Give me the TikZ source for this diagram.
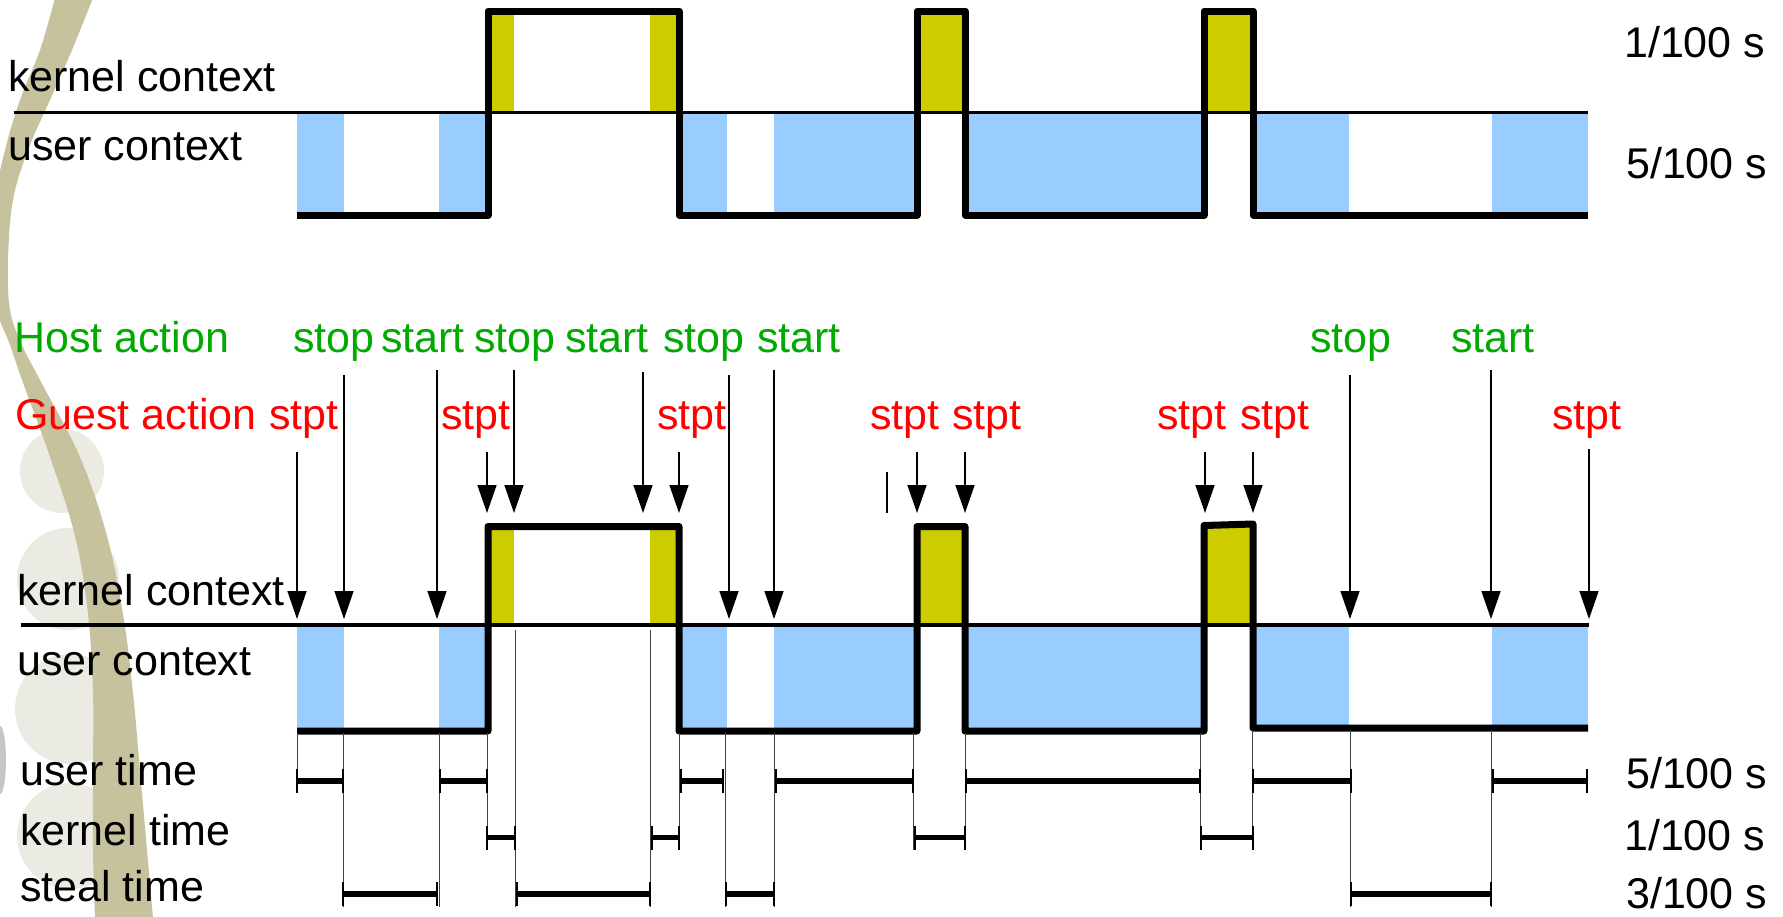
\documentclass[tikz,border=0pt]{standalone}
\usepackage{fontspec}
\setmainfont{Liberation Sans}
\usetikzlibrary{arrows.meta}
\definecolor{kyel}{RGB}{204,204,0}
\definecolor{ublue}{RGB}{153,204,255}
\definecolor{hgreen}{RGB}{0,170,0}
\definecolor{gred}{RGB}{255,0,0}
\definecolor{swoosh}{RGB}{198,194,158}
\definecolor{circ}{RGB}{235,235,227}
\begin{document}
\begin{tikzpicture}[x=1pt,y=-1pt,
  wave/.style={line width=7pt, line join=round},
  divider/.style={line width=3.5pt},
  arr/.style={line width=1.5pt, -{Triangle[width=19pt,length=28pt]}},
  guide/.style={line width=1pt, black!75},
  tbar/.style={line width=5.5pt},
  ttick/.style={line width=2.5pt},
  lbl/.style={font=\fontsize{43}{50}\selectfont, inner sep=0pt, anchor=base west},
  host/.style={lbl, text=hgreen},
  guest/.style={lbl, text=gred}]
\useasboundingbox (0,0) rectangle (1783,916);

% ---------- background decoration ----------
\begin{scope}
\clip (0,0) rectangle (1783,916);
\fill[circ] (62,471) circle[radius=42];
\fill[circ] (68,579) circle[radius=51];
\fill[circ] (70,709) circle[radius=55];
\fill[circ] (70,836) circle[radius=53];
\fill[gray!45] (0,760) ellipse[x radius=6, y radius=34];
\fill[swoosh] plot[smooth, tension=0.6] coordinates {(55,-2) (40,50) (20,100) (5,150) (-5,200) (-8,260) (-3,310) (10,345) (22,380) (50,457) (75,536) (88,614) (93,693) (93,771) (93,850) (95,918)}
  -- plot[smooth, tension=0.6] coordinates {(153,918) (147,850) (140,771) (133,693) (123,614) (107,536) (80,457) (40,380) (22,345) (10,310) (8,260) (13,200) (28,150) (50,100) (72,50) (93,-2)} -- cycle;
\end{scope}

% ---------- top diagram ----------
\foreach \a/\b in {488/514, 650/679, 917/965, 1204/1253}
  \fill[kyel] (\a,11) rectangle (\b,112.5);
\foreach \a/\b in {297/344, 439/488, 679/727, 774/917, 965/1204, 1253/1349, 1492/1588}
  \fill[ublue] (\a,112.5) rectangle (\b,215);
\coordinate (td1) at (14,112.5);
\coordinate (td2) at (1588,112.5);
\draw[divider] (td1) -- (td2);
\draw[wave] (297,215) -- (488,215) -- (488,11) -- (679,11) -- (679,215)
  -- (917,215) -- (917,11) -- (965,11) -- (965,215)
  -- (1204,215) -- (1204,11) -- (1253,11) -- (1253,215) -- (1588,215);

\node[lbl] (tk) at (8,91) {kernel context};
\node[lbl] (tu) at (8,160) {user context};
\node[lbl] (tr1) at (1624,57) {1/100 s};
\node[lbl] (tr5) at (1626,178) {5/100 s};

% ---------- bottom diagram ----------
\foreach \a/\b in {488/514, 650/679, 917/965, 1204/1253}
  \fill[kyel] (\a,526) rectangle (\b,625);
\foreach \a/\b in {297/344, 439/488, 679/727, 774/917, 965/1204}
  \fill[ublue] (\a,625) rectangle (\b,731);
\foreach \a/\b in {1253/1349, 1492/1588}
  \fill[ublue] (\a,625) rectangle (\b,728);
\coordinate (bd1) at (21,625);
\coordinate (bd2) at (1589,625);
\draw[divider] (bd1) -- (bd2);
\draw[wave] (297,731) -- (488,731) -- (488,526.5) -- (679,526.5) -- (679,731)
  -- (917,731) -- (917,526.5) -- (965,526.5) -- (965,731)
  -- (1204,731) -- (1204,525.5) -- (1253,524) -- (1253,728) -- (1588,728);

% labels
\node[host] (ha) at (14,352) {Host action};
\node[host] (h1) at (293,352) {stop};
\node[host] (h2) at (381,352) {start};
\node[host] (h3) at (474,352) {stop};
\node[host] (h4) at (565,352) {start};
\node[host] (h5) at (663,352) {stop};
\node[host] (h6) at (757,352) {start};
\node[host] (h7) at (1310,352) {stop};
\node[host] (h8) at (1451,352) {start};

\node[guest] (ga) at (15,429) {Guest action};
\node[guest] (g1) at (269,429) {stpt};
\node[guest] (g2) at (441,429) {stpt};
\node[guest] (g3) at (657,429) {stpt};
\node[guest] (g4) at (870,429) {stpt};
\node[guest] (g5) at (952,429) {stpt};
\node[guest] (g6) at (1157,429) {stpt};
\node[guest] (g7) at (1240,429) {stpt};
\node[guest] (g8) at (1552,429) {stpt};

% arrows: long ones
\foreach \n/\x/\t in {1/297/452, 2/344/375, 3/437/370, 4/729/375, 5/774/370, 6/1350/375, 7/1491/370, 8/1589/449}{
  \coordinate (la\n) at (\x,\t);
  \coordinate (lb\n) at (\x,619);
  \draw[arr] (la\n) -- (lb\n);
}
% arrows: short ones
\foreach \n/\x/\t in {1/487/452, 2/514/370, 3/643/372, 4/679/452, 5/917/452, 6/965/452, 7/1205/452, 8/1253/452}{
  \coordinate (sa\n) at (\x,\t);
  \coordinate (sb\n) at (\x,513);
  \draw[arr] (sa\n) -- (sb\n);
}
\coordinate (st1) at (887,472);
\coordinate (st2) at (887,513);
\draw[line width=2.3pt] (st1) -- (st2);

\node[lbl] (bk) at (17,605) {kernel context};
\node[lbl] (bu) at (17,675) {user context};
\node[lbl] (ut) at (20,785) {user time};
\node[lbl] (kt) at (20,845) {kernel time};
\node[lbl] (stl) at (20,901) {steal time};
\node[lbl] (r5) at (1626,788) {5/100 s};
\node[lbl] (r1) at (1624,850) {1/100 s};
\node[lbl] (r3) at (1626,908) {3/100 s};

% guide lines
\foreach \x/\a/\b in {297/733/793, 343/733/907, 439/733/907, 487/733/850,
   515/630/907, 650/630/907, 679/733/850, 725/733/907, 774/733/907,
   913/733/850, 965/733/850, 1200/733/850, 1252/730/850, 1350/730/907, 1491/730/907}
  \draw[guide] (\x,\a) -- (\x,\b);

% time bars
\foreach \a/\b/\y in {297/343/781, 440/487/781, 681/723/781, 776/913/781, 966/1200/781, 1253/1351/781, 1493/1587/781,
   487/515/837.5, 652/679/837.5, 915/965/837.5, 1201/1253/837.5,
   343/437/894, 517/650/894, 726/774/894, 1351/1491/894}{
  \draw[tbar] (\a,\y) -- (\b,\y);
  \draw[ttick] (\a,\y-12) -- (\a,\y+12);
  \draw[ttick] (\b,\y-12) -- (\b,\y+12);
}
\end{tikzpicture}
\end{document}
